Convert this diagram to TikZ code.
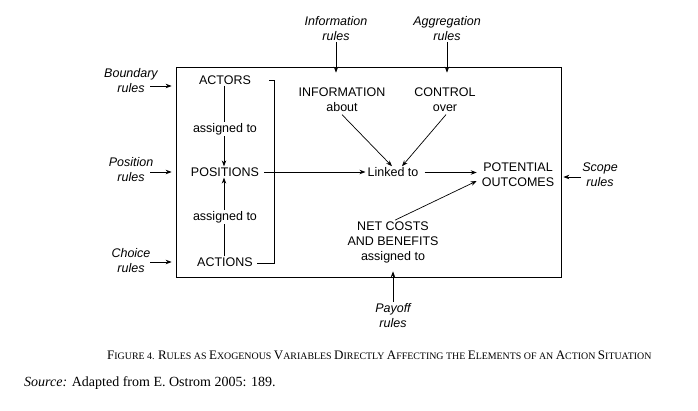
\documentclass[tikz,border=0pt]{standalone}
\usepackage{fontspec}
\setmainfont{Liberation Serif}
\newfontfamily\dsans{Liberation Sans}
\usetikzlibrary{arrows.meta,calc}
\newcommand\SC[2]{{\fontsize{13}{14}\selectfont#1}{\fontsize{9.9}{11}\selectfont#2}}
\begin{document}
\begin{tikzpicture}[x=1pt,y=-1pt,
  lab/.style={font=\dsans\fontsize{12.5}{15}\selectfont, align=center, inner sep=1pt},
  rul/.style={font=\dsans\itshape\fontsize{12.5}{15}\selectfont, align=center, inner sep=1pt},
  ln/.style={line width=0.7pt},
  arr/.style={line width=0.7pt, -{Stealth[length=6pt,width=4.5pt]}}]
\useasboundingbox (0,0) rectangle (698,410);
% main box
\node[draw, line width=0.8pt, minimum width=385pt, minimum height=210pt, inner sep=0pt] (box) at (368.5,172) {};
% left column
\node[lab] (actors) at (225,80) {ACTORS};
\node[lab] (asg1) at (225,129) {assigned to};
\node[lab] (positions) at (225,172) {POSITIONS};
\node[lab] (asg2) at (225,217) {assigned to};
\node[lab] (actions) at (225,262) {ACTIONS};
\draw[ln] ([xshift=-1pt]actors.south) -- ([xshift=-1pt]asg1.north);
\draw[arr] ([xshift=-1pt]asg1.south) -- ([xshift=-1pt]positions.north);
\draw[ln] ([xshift=-1pt]actions.north) -- ([xshift=-1pt]asg2.south);
\draw[arr] ([xshift=-1pt]asg2.north) -- ([xshift=-1pt]positions.south);
% bracket
\coordinate (brtop) at (269,80);
\draw[ln] (brtop) -- (274,80) -- (274,263) -- ([xshift=3pt]actions.east |- 0,263);
% middle
\node[lab] (info) at (342,99.5) {INFORMATION\\about};
\node[lab] (control) at (445,99.5) {CONTROL\\over};
\node[lab] (linked) at (393,172) {Linked to};
\node[lab] (potential) at (518,174.5) {POTENTIAL\\OUTCOMES};
\node[lab] (netcosts) at (393,242) {NET COSTS\\AND BENEFITS\\assigned to};
\draw[arr] ([xshift=4pt]positions.east) -- ([xshift=-1pt]linked.west);
\draw[arr] ([shift={(0,2)}]info.south) -- ([xshift=-1pt]linked.north);
\draw[arr] ([shift={(1,2)}]control.south) -- ([xshift=9pt]linked.north);
\draw[arr] ([shift={(5,0.5)}]linked.east) -- ([xshift=-4pt]potential.west |- 0,172.5);
\draw[arr] ([xshift=2pt]netcosts.north) -- ([shift={(-4,6.5)}]potential.west);
% outer rules
\node[rul] (inforules) at (336,28.5) {Information\\rules};
\node[rul] (aggrules) at (447,28.5) {Aggregation\\rules};
\node[rul] (boundary) at (131,80.5) {Boundary\\rules};
\node[rul] (posrules) at (131,169.5) {Position\\rules};
\node[rul] (choice) at (131,260.5) {Choice\\rules};
\node[rul] (scope) at (600,175) {Scope\\rules};
\node[rul] (payoff) at (393,315.5) {Payoff\\rules};
\draw[arr] (inforules.south) -- ([yshift=-6pt]box.north -| inforules);
\draw[arr] (aggrules.south) -- ([yshift=-6pt]box.north -| aggrules);
\coordinate (bnd) at (150,86);
\coordinate (pos) at (150,172);
\coordinate (cho) at (150,262);
\coordinate (sco) at (581,177);
\draw[arr] (bnd) -- ([xshift=-4pt]bnd -| box.west);
\draw[arr] (pos) -- ([xshift=-4pt]pos -| box.west);
\draw[arr] (cho) -- ([xshift=-4pt]cho -| box.west);
\draw[arr] (sco) -- ([xshift=2pt]sco -| box.east);
\draw[arr] (payoff.north) -- ([yshift=6pt]box.south -| payoff);
% caption
\node[anchor=base west, inner sep=0pt] (cap) at (107,359) {\SC{F}{IGURE} 4. \SC{R}{ULES AS} \SC{E}{XOGENOUS} \SC{V}{ARIABLES} \SC{D}{IRECTLY} \SC{A}{FFECTING THE} \SC{E}{LEMENTS OF AN} \SC{A}{CTION} \SC{S}{ITUATION}};
\node[anchor=base west, inner sep=0pt, font=\fontsize{14}{16}\selectfont] (src) at (24,386) {\textit{Source:} Adapted from E. Ostrom 2005: 189.};
\end{tikzpicture}
\end{document}
